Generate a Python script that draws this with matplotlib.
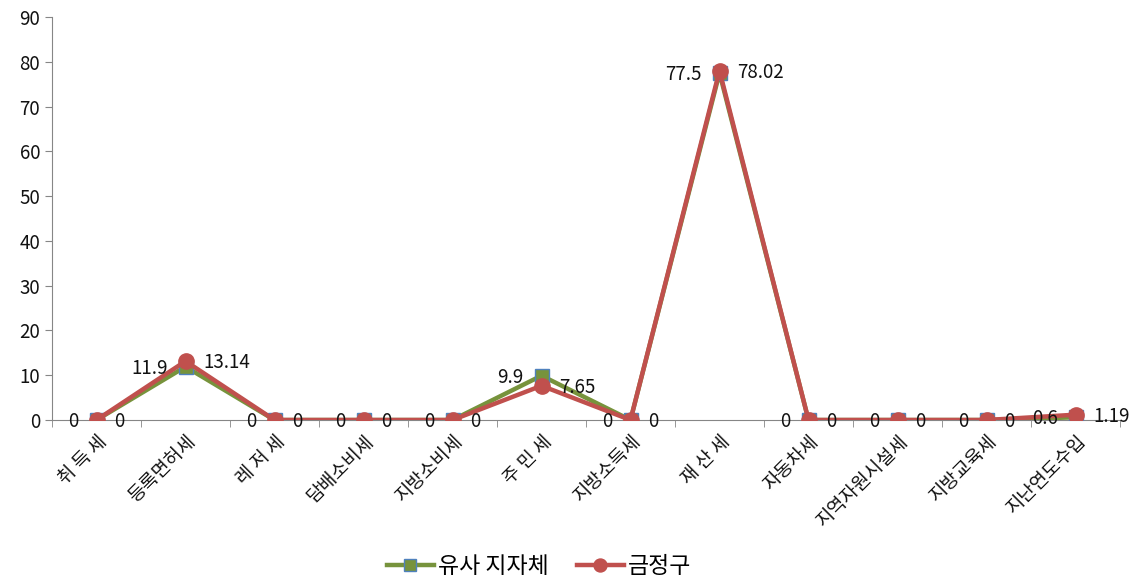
import matplotlib.pyplot as plt
import numpy as np

plt.rcParams['font.family'] = ['Noto Sans CJK KR', 'DejaVu Sans']

categories = ['취 득 세', '등록면허세', '레 저 세', '담배소비세', '지방소비세', '주 민 세',
              '지방소득세', '재 산 세', '자동차세', '지역자원시설세', '지방교육세', '지난연도수입']
similar = [0, 11.9, 0, 0, 0, 9.9, 0, 77.5, 0, 0, 0, 0.6]
geumjeong = [0, 13.14, 0, 0, 0, 7.65, 0, 78.02, 0, 0, 0, 1.19]
similar_labels = ['0', '11.9', '0', '0', '0', '9.9', '0', '77.5', '0', '0', '0', '0.6']
geumjeong_labels = ['0', '13.14', '0', '0', '0', '7.65', '0', '78.02', '0', '0', '0', '1.19']

GREEN = '#77933C'
RED = '#C0504D'
AXIS = '#868686'
TXT = '#111111'

fig = plt.figure(figsize=(11.4, 5.81), dpi=100)
ax = fig.add_axes([52 / 1140, 161 / 581, 1068 / 1140, 403 / 581])

x = np.arange(len(categories))
ax.plot(x, similar, color=GREEN, lw=3.2, marker='s', ms=10,
        markerfacecolor=GREEN, markeredgecolor='#4F81BD', markeredgewidth=1,
        label='유사 지자체', zorder=3)
ax.plot(x, geumjeong, color=RED, lw=3.2, marker='o', ms=11,
        markerfacecolor=RED, markeredgecolor=RED,
        label='금정구', zorder=4)

for xi, v, t in zip(x, similar, similar_labels):
    ax.annotate(t, (xi, v), xytext=(-13, -1), textcoords='offset points',
                ha='right', va='center', fontsize=13.5, color=TXT, zorder=5)
for xi, v, t in zip(x, geumjeong, geumjeong_labels):
    ax.annotate(t, (xi, v), xytext=(13, -1), textcoords='offset points',
                ha='left', va='center', fontsize=13.5, color=TXT, zorder=5)

ax.set_xlim(-0.5, len(categories) - 0.5)
ax.set_ylim(0, 90)
ax.set_yticks(np.arange(0, 91, 10))
ax.tick_params(axis='y', labelsize=13.5, color=AXIS, length=5, labelcolor=TXT)

ax.set_xticks(x)
ax.set_xticklabels(categories, rotation=45, ha='right', rotation_mode='anchor',
                   fontsize=13.5, color=TXT)
ax.tick_params(axis='x', length=0, pad=8)
ax.set_xticks(np.arange(-0.5, len(categories), 1), minor=True)
ax.tick_params(axis='x', which='minor', length=5, color=AXIS)

for side in ['top', 'right']:
    ax.spines[side].set_visible(False)
for side in ['left', 'bottom']:
    ax.spines[side].set_color(AXIS)

fig.legend(loc='lower center', bbox_to_anchor=(0.473, -0.03), ncol=2, frameon=False,
           fontsize=16.5, handlelength=2.05, columnspacing=1.2, handletextpad=0.2,
           markerscale=0.85)

fig.savefig('out.png', dpi=100)
